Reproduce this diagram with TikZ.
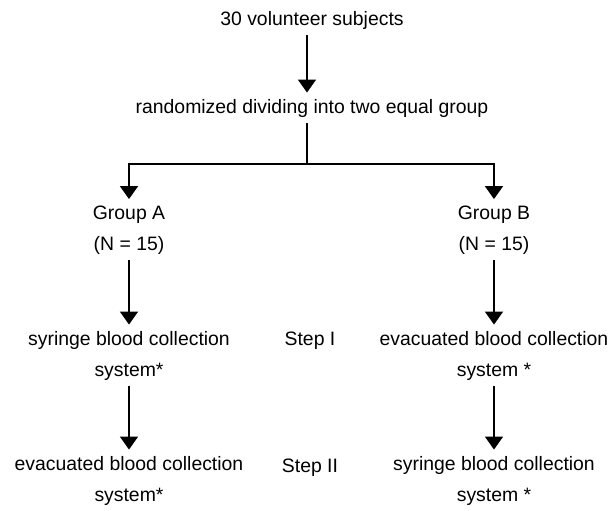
\documentclass[tikz,border=0pt]{standalone}
\usepackage{fontspec}
\setmainfont{Liberation Sans}
\usetikzlibrary{arrows.meta}

\begin{document}
\begin{tikzpicture}[x=0.5pt, y=-0.5pt,
        txt/.style={font=\fontsize{9.7}{15.5}\selectfont, align=center, inner sep=3pt, anchor=base},
        arr/.style={line width=0.9pt, -{Triangle[width=9pt, length=6.5pt]}}]
        \useasboundingbox (0,0) rectangle (616,510);

        % Subjects and randomization
        \node[txt] (subj) at (312,25) {30 volunteer subjects};
        \node[txt] (rand) at (312,113) {randomized dividing into two equal group};

        % The two groups (base is the last line)
        \node[txt] (grpA) at (129,250) {Group A\\(N = 15)};
        \node[txt] (grpB) at (494,250) {Group B\\(N = 15)};

        % Step I
        \node[txt] (stepAi) at (129,376) {syringe blood collection\\system*};
        \node[txt] (stepI) at (310,345) {Step I};
        \node[txt] (stepBi) at (494,376) {evacuated blood collection\\system *};

        % Step II
        \node[txt] (stepAii) at (129,501) {evacuated blood collection\\system*};
        \node[txt] (stepII) at (310,472) {Step II};
        \node[txt] (stepBii) at (494,501) {syringe blood collection\\system *};

        % Arrows down the chart
        \coordinate (fork) at (307,164);
        \draw[arr] (subj.south -| fork) -- (rand.north -| fork);
        \draw[line width=0.9pt] (rand.south -| fork) -- (fork);
        \draw[arr] (fork) -| (grpA.north);
        \draw[arr] (fork) -| (grpB.north);
        \foreach \a/\b in {grpA/stepAi, stepAi/stepAii, grpB/stepBi, stepBi/stepBii}
            \draw[arr] (\a.south) -- (\b.north);
    \end{tikzpicture}
\end{document}
